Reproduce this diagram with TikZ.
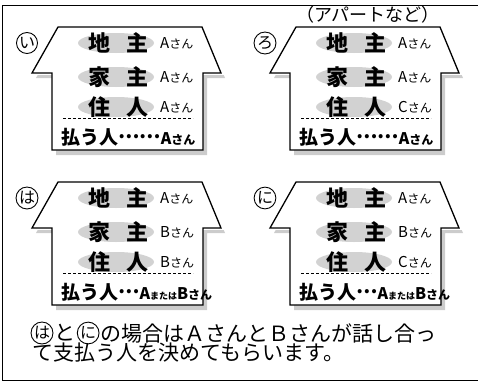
\documentclass[tikz,border=0pt]{standalone}
\usepackage{fontspec}
\newfontfamily\jp{Noto Sans CJK JP}
\usetikzlibrary{positioning}

\newcommand{\san}{{\fontsize{12}{12}\selectfont さん}}
\newcommand{\mata}{{\fontsize{9}{9}\selectfont または}}
\newcommand{\tenten}[1]{\raisebox{0.3em}{#1}}

\tikzset{
  wall/.style = {draw = black, line width = 1.3pt, fill = white},
  shade/.style = {fill = gray!40},
  blob/.style = {fill = gray!35},
  role/.style = {inner sep = 0pt, font = \jp\bfseries\fontsize{22}{22}\selectfont},
  who/.style = {anchor = west, inner sep = 0pt, font = \jp\fontsize{15}{15}\selectfont},
  payer/.style = {anchor = west, inner sep = 0pt, font = \jp\bfseries\fontsize{19}{19}\selectfont},
  maru/.style = {draw, circle, line width = 0.9pt, inner sep = 0.5pt, font = \jp\fontsize{16}{16}\selectfont},
  note/.style = {inner sep = 0pt, font = \jp\fontsize{21}{21}\selectfont},
}

\begin{document}
\begin{tikzpicture}[x = 1pt, y = -1pt]
  \useasboundingbox (0,0) rectangle (478,383);
  \draw [line width = 1pt] (478,5) -- (2,5) -- (2,380) -- (478,380);

  \foreach \dx/\dy/\id/\mk/\p/\q/\r/\pay in {
      0/0/i/い/A/A/A/{\tenten{⋯⋯}{\fontsize{16}{16}\selectfont A}},
      238/0/r/ろ/A/A/C/{\tenten{⋯⋯}{\fontsize{16}{16}\selectfont A}},
      0/155/h/は/A/B/B/{\tenten{⋯}{\fontsize{16}{16}\selectfont A\mata B}},
      238/155/n/に/A/B/C/{\tenten{⋯}{\fontsize{16}{16}\selectfont A\mata B}}}{
    \begin{scope}[shift = {(\dx,\dy)}]
      % shadow of the house
      \begin{scope}
        \clip (0,75) rectangle (240,160);
        \fill [shade, shift = {(4,5)}] (58,27) -- (202,27) -- (221,73) -- (203,73)
          -- (203,150) -- (52,150) -- (52,73) -- (32,73) -- cycle;
      \end{scope}
      \draw [wall] (58,27) -- (202,27) -- (221,73) -- (203,73)
        -- (203,150) -- (52,150) -- (52,73) -- (32,73) -- cycle;

      \fill [blob] (116,43) ellipse (38 and 10);
      \fill [blob] (116,77) ellipse (38 and 10);
      \fill [blob] (116,107) ellipse (38 and 10);

      \node [maru] (mk-\id) at (27,43) {\mk};

      \node [role] (land-\id) at (99,43) {地};
      \node [role] (land2-\id) at (137,43) {主};
      \node [role] (house-\id) at (99,77) {家};
      \node [role] (house2-\id) at (137,77) {主};
      \node [role] (live-\id) at (99,107) {住};
      \node [role] (live2-\id) at (137,107) {人};

      \node [who] (p-\id) at (160,43) {\p\san};
      \node [who] (q-\id) at (160,77) {\q\san};
      \node [who] (r-\id) at (160,107) {\r\san};

      \draw [line width = 1pt, dash pattern = on 3pt off 2pt] (63,118) -- (193,118);
      \node [payer] (pay-\id) at (61,137) {払う人\pay\san};
    \end{scope}
  }

  \node [font = \jp\fontsize{18}{18}\selectfont, inner sep = 0pt] (apart) at (368,15) {（アパートなど）};

  \node [maru, font = \jp\fontsize{16}{16}\selectfont] (mk-t1) at (42,333) {は};
  \node [note, right = 1pt of mk-t1] (t1) {と};
  \node [maru, font = \jp\fontsize{16}{16}\selectfont, right = 1pt of t1] (mk-t2) {に};
  \node [note, right = 1pt of mk-t2] (t2) {の場合はＡさんとＢさんが話し合っ};
  \node [note, anchor = west] (t3) at (32,353) {て支払う人を決めてもらいます。};
\end{tikzpicture}
\end{document}
